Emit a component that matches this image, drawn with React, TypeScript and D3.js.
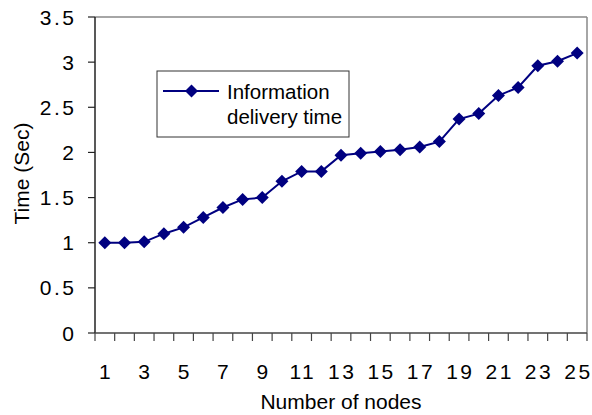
import React from "react";
import * as d3 from "d3";

const nodes: number[] = [1,2,3,4,5,6,7,8,9,10,11,12,13,14,15,16,17,18,19,20,21,22,23,24,25];
const times: number[] = [1.0,1.0,1.01,1.10,1.17,1.28,1.39,1.48,1.50,1.68,1.79,1.79,1.97,1.99,2.01,2.03,2.06,2.12,2.37,2.43,2.63,2.72,2.96,3.01,3.10];
const yTicks: number[] = [0,0.5,1,1.5,2,2.5,3,3.5];
const xTickLabels: number[] = [1,3,5,7,9,11,13,15,17,19,21,23,25];
const seriesName = ["Information", "delivery time"];

const W = 592, H = 415;
const left = 95, right = 587, top = 17, bottom = 333;
const FONT = "'Liberation Sans', Arial, sans-serif";
const NAVY = "#000080";
const LS = 2.5;

export default function App() {
  const x = d3.scaleBand<number>().domain(nodes).range([left, right]);
  const y = d3.scaleLinear().domain([0, 3.5]).range([bottom, top]);
  const cx = (n: number) => (x(n) as number) + x.bandwidth() / 2;
  const line = d3.line<number>().x((_, i) => cx(nodes[i])).y((d) => y(d));
  const diamond = (px: number, py: number, r = 6.5) =>
    `M${px},${py - r}L${px + r},${py}L${px},${py + r}L${px - r},${py}Z`;
  const bounds = [...nodes.map((n) => x(n) as number), right];

  return (
    <svg width={W} height={H} style={{ position: "absolute", left: 0, top: 0, background: "#fff" }}>
      <rect x={0} y={0} width={W} height={H} fill="#fff" />
      {/* plot border */}
      <line x1={left} y1={top} x2={right} y2={top} stroke="#888" strokeWidth={1.5} />
      <line x1={right} y1={top} x2={right} y2={bottom} stroke="#888" strokeWidth={1.5} />
      {/* axes */}
      <line x1={left} y1={top} x2={left} y2={bottom} stroke="#222" strokeWidth={1.5} />
      <line x1={left} y1={bottom} x2={right} y2={bottom} stroke="#444" strokeWidth={1.5} />
      {yTicks.map((t) => (
        <g key={t}>
          <line x1={left - 7} x2={left} y1={y(t)} y2={y(t)} stroke="#222" strokeWidth={1.2} />
          <text x={74 + LS} y={y(t)} dy="0.36em" textAnchor="end" fontFamily={FONT} fontSize={21} letterSpacing={LS} fill="#000">
            {t}
          </text>
        </g>
      ))}
      {bounds.map((b, i) => (
        <line key={i} x1={b} x2={b} y1={bottom} y2={bottom + 8} stroke="#444" strokeWidth={1.2} />
      ))}
      {xTickLabels.map((n) => (
        <text key={n} x={cx(n) + LS / 2} y={378.5} textAnchor="middle" fontFamily={FONT} fontSize={21} letterSpacing={LS} fill="#000">
          {n}
        </text>
      ))}
      <text x={341} y={409} textAnchor="middle" fontFamily={FONT} fontSize={21} fill="#000">
        Number of nodes
      </text>
      <text
        transform={`translate(29,173.5) rotate(-90)`}
        textAnchor="middle"
        fontFamily={FONT}
        fontSize={21}
        fill="#000"
      >
        Time (Sec)
      </text>
      {/* series */}
      <path d={line(times) as string} fill="none" stroke={NAVY} strokeWidth={2} />
      {times.map((v, i) => (
        <path key={i} d={diamond(cx(nodes[i]), y(v))} fill={NAVY} />
      ))}
      {/* legend */}
      <rect x={157} y={71} width={192} height={66} fill="#fff" stroke="#333" strokeWidth={1} />
      <line x1={163} x2={219} y1={91} y2={91} stroke={NAVY} strokeWidth={2} />
      <path d={diamond(191.5, 91)} fill={NAVY} />
      <text x={227} y={98.5} fontFamily={FONT} fontSize={20.5} fill="#000">{seriesName[0]}</text>
      <text x={227} y={123.5} fontFamily={FONT} fontSize={20.5} fill="#000">{seriesName[1]}</text>
    </svg>
  );
}
